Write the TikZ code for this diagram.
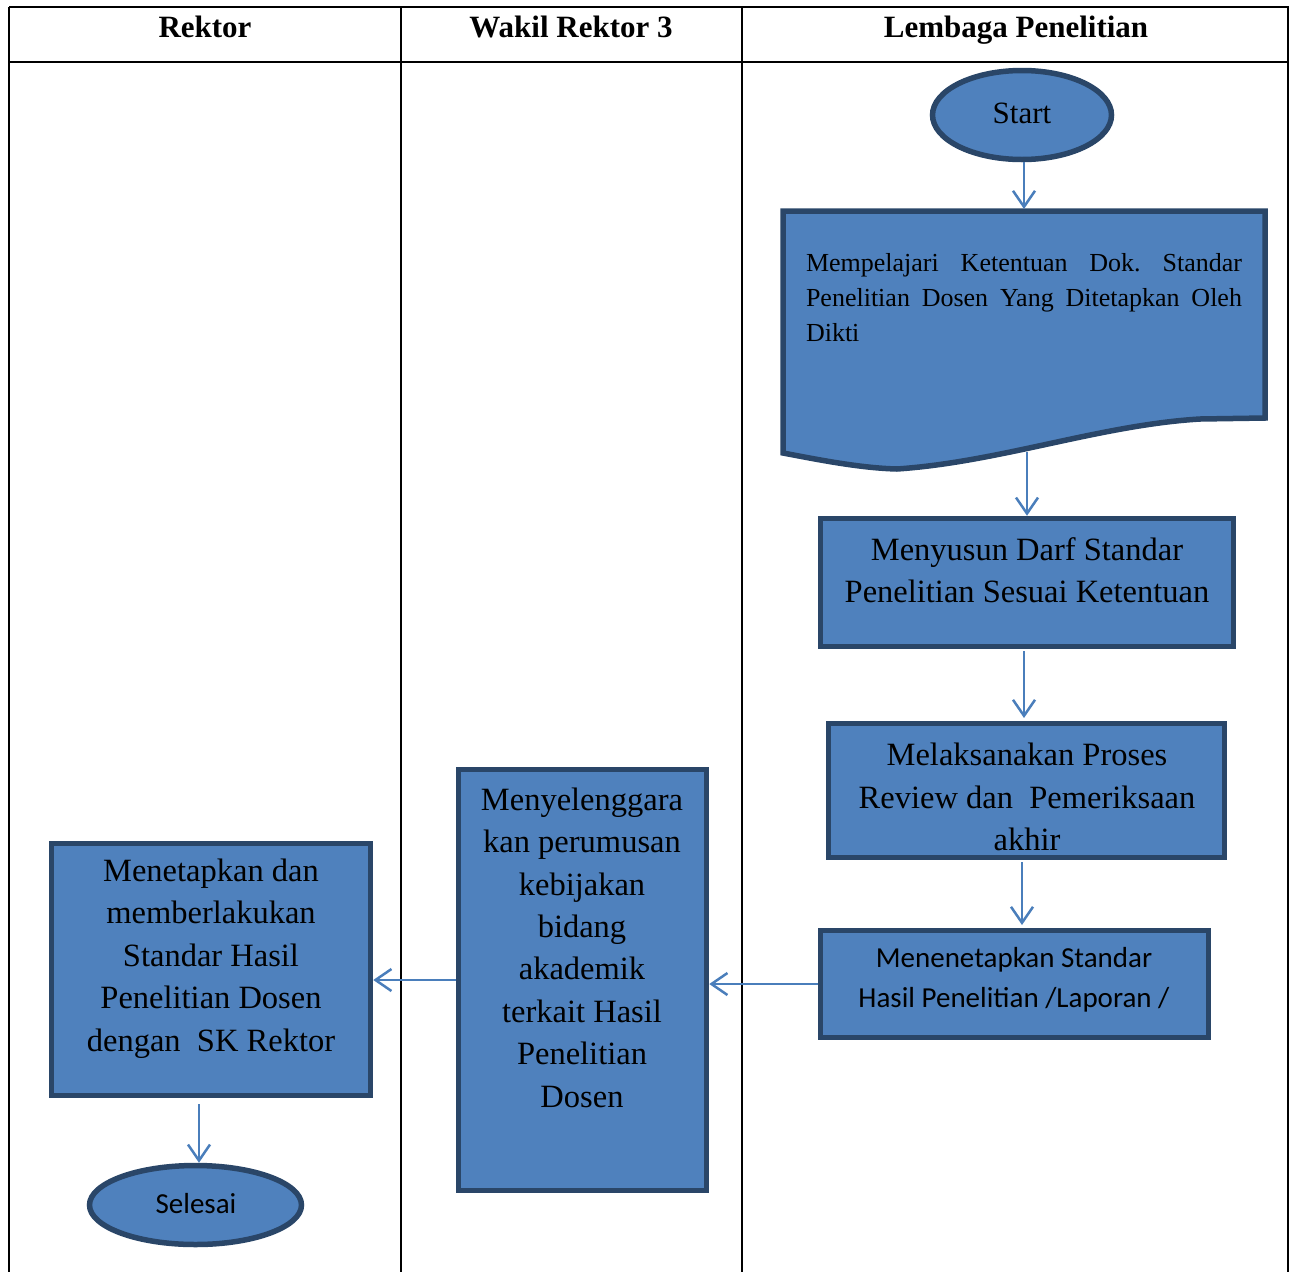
\documentclass[tikz,border=0pt]{standalone}
\usepackage{fontspec}
\setmainfont{Liberation Serif}
\newfontfamily\carlito{Carlito}
\usetikzlibrary{arrows.meta,shapes.geometric}
\definecolor{boxfill}{HTML}{4F81BD}
\definecolor{boxline}{HTML}{2A4668}
\definecolor{arrcol}{HTML}{4A7EBB}
\frenchspacing
\begin{document}
\begin{tikzpicture}[x=1pt,y=-1pt,
  grid/.style={draw=black,line width=2.5pt},
  box/.style={rectangle,draw=boxline,fill=boxfill,line width=5.5pt,inner sep=0pt},
  oval/.style={ellipse,draw=boxline,fill=boxfill,line width=5.5pt,inner sep=0pt},
  hdr/.style={font=\bfseries\fontsize{31}{36}\selectfont,inner sep=0pt,anchor=base},
  txt/.style={align=center,inner sep=0pt,font=\fontsize{32.5}{42.4}\selectfont},
  ctxt/.style={align=center,inner sep=0pt,font=\carlito\fontsize{29}{40}\selectfont},
  arr/.style={draw=arrcol,line width=2.5pt,-{Straight Barb[length=16pt,width=22pt,line width=2.5pt]}}]
\useasboundingbox (0,0) rectangle (1290,1272);
% table
\draw[grid] (9,7) -- (1289,7);
\draw[grid] (9,62) -- (1289,62);
\draw[grid] (9,7) -- (9,1272);
\draw[grid] (401,7) -- (401,1272);
\draw[grid] (742,7) -- (742,1272);
\draw[grid] (1288,7) -- (1288,1272);
\node[hdr] (h1) at (205,37) {Rektor};
\node[hdr] (h2) at (571,37) {Wakil Rektor 3};
\node[hdr] (h3) at (1016,37) {Lembaga Penelitian};
% start
\node[oval,minimum width=179,minimum height=89] (start) at (1022,115) {};
\node[txt,font=\fontsize{31}{36}\selectfont] (startt) at (1022,113) {Start};
% document shape
\coordinate (docTop) at (1024,211);
\coordinate (docBot) at (1027,452);
\draw[draw=boxline,fill=boxfill,line width=5.5pt,line join=miter]
  (783,211) -- (1265,211) -- (1265,418) -- (1200,419)
  .. controls (1100,425) and (1000,462) .. (897,469)
  .. controls (860,468) and (820,460) .. (783,453) -- cycle;
\node[inner sep=0pt,text width=436pt,align=justify,font=\fontsize{26}{35}\selectfont] (doc) at (1024,298)
  {Mempelajari Ketentuan Dok. Standar\linebreak Penelitian Dosen Yang Ditetapkan Oleh\linebreak Dikti};
% boxes
\node[box,minimum width=413,minimum height=128] (m1) at (1027,582.5) {};
\node[txt] (m1t) at (1027,570) {Menyusun Darf Standar\\Penelitian Sesuai Ketentuan};
\node[box,minimum width=396,minimum height=134] (m2) at (1026.5,790.5) {};
\node[txt] (m2t) at (1027,797) {Melaksanakan Proses\\Review dan~~Pemeriksaan\\akhir};
\node[box,minimum width=388,minimum height=107] (m3) at (1014.5,984) {};
\node[ctxt] (m3t) at (1014,980) {Menenetapkan Standar\\Hasil Penelitian /Laporan /};
\node[box,minimum width=248,minimum height=421] (w1) at (582.5,980) {};
\node[txt] (w1t) at (582,947.5) {Menyelenggara\\kan perumusan\\kebijakan\\bidang\\akademik\\terkait Hasil\\Penelitian\\Dosen};
\node[box,minimum width=319,minimum height=252] (r1) at (211,969.5) {};
\node[txt] (r1t) at (211,958.5) {Menetapkan dan\\memberlakukan\\Standar Hasil\\Penelitian Dosen\\dengan~~SK Rektor};
\node[oval,minimum width=212,minimum height=79] (sel) at (195.5,1205) {};
\node[ctxt] (selt) at (196,1204) {Selesai};
% arrows
\draw[arr] (1024,162) -- (1024,209);
\draw[arr] (docBot) -- (docBot |- m1.north);
\draw[arr] (1024,651) -- (1024,718);
\draw[arr] (1022,862) -- (1022,925);
\draw[arr] (m3.west) -- (m3.west -| w1.east);
\draw[arr] (w1.west) -- (w1.west -| r1.east);
\coordinate (rs) at (199,1104);
\draw[arr] (rs) -- (rs |- sel.north);
\end{tikzpicture}
\end{document}
